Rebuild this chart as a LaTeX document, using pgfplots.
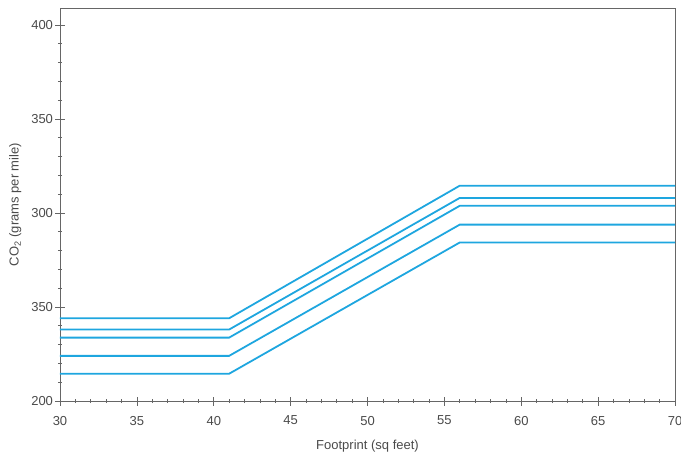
\documentclass[border=0pt]{standalone}
\usepackage{fontspec}
\setmainfont{Liberation Sans}
\usepackage{pgfplots}
\pgfplotsset{compat=1.18}
\definecolor{lineblue}{HTML}{1EA6DF}
\definecolor{axgray}{HTML}{666666}
\definecolor{txtgray}{HTML}{4A4A4A}
\begin{document}
\begin{tikzpicture}
\begin{axis}[
  name=ax,
  scale only axis,
  width=615pt, height=393pt,
  xmin=30, xmax=70, ymin=200, ymax=409,
  xtick={30,35,...,70},
  ytick={200,250,300,350,400},
  yticklabels={200,350,300,350,400},
  minor x tick num=4,
  minor y tick num=4,
  axis line style={axgray, line width=0.8pt},
  tick style={axgray, line width=0.6pt},
  major tick length=9pt,
  minor tick length=4pt,
  tick align=center,
  xtick pos=bottom, ytick pos=left,
  every tick label/.append style={font=\fontsize{13}{15}\selectfont, text=txtgray},
  xticklabel style={yshift=-7pt},
  yticklabel style={xshift=1pt},
  /pgf/number format/assume math mode=true,
  xlabel={Footprint (sq feet)},
  ylabel={CO\textsubscript{2} (grams per mile)},
  xlabel style={font=\fontsize{13}{15}\selectfont, text=txtgray, yshift=-8pt},
  ylabel style={font=\fontsize{13}{15}\selectfont, text=txtgray, yshift=3pt},
]
\addplot[lineblue, line width=1.8pt] coordinates {(30,244) (41,244) (56,314.5) (70,314.5)};
\addplot[lineblue, line width=1.8pt] coordinates {(30,238) (41,238) (56,308) (70,308)};
\addplot[lineblue, line width=1.8pt] coordinates {(30,233.7) (41,233.7) (56,303.8) (70,303.8)};
\addplot[lineblue, line width=1.8pt] coordinates {(30,224) (41,224) (56,293.8) (70,293.8)};
\addplot[lineblue, line width=1.8pt] coordinates {(30,214.5) (41,214.5) (56,284.3) (70,284.3)};
\end{axis}
\pgfresetboundingbox
\path ([xshift=-60pt,yshift=-54pt]ax.south west) rectangle ([xshift=6pt,yshift=8pt]ax.north east);
\end{tikzpicture}
\end{document}
